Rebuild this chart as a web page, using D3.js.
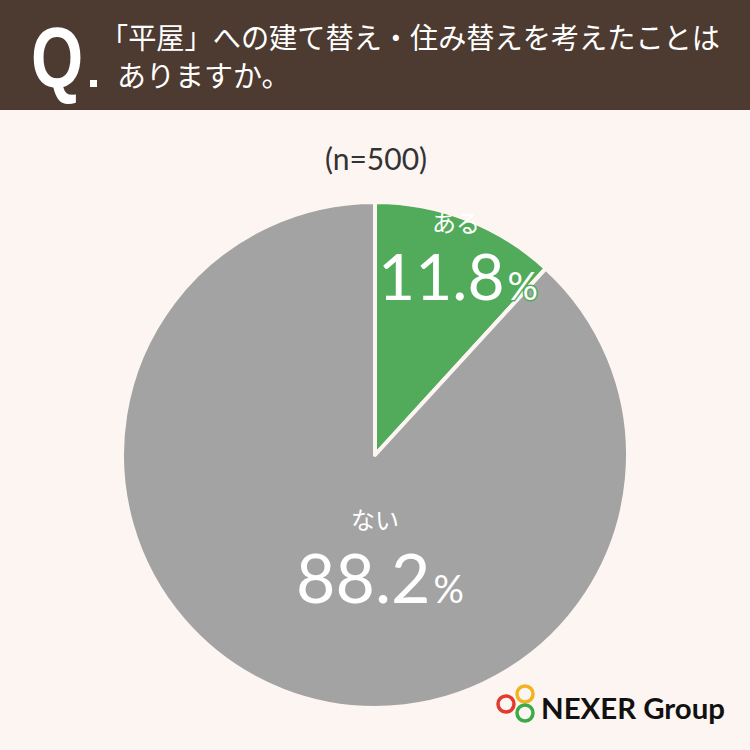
<!DOCTYPE html>
<html>
<head>
<meta charset="utf-8">
<script src="https://cdn.jsdelivr.net/npm/d3@7"></script>
<style>
  body { margin: 0; background: #fdf5f2; }
  svg { display: block; }
</style>
</head>
<body>
<svg id="chart" width="750" height="750"></svg>
<script>
// data
var categories = ['ある', 'ない'];
var values = [11.8, 88.2];
var colors = ['#52ab5b', '#a3a3a3'];
var titleLines = ['「平屋」への建て替え・住み替えを考えたことは', 'ありますか。'];
var sampleLabel = '(n=500)';

var svg = d3.select('#chart');
var jp = '"Noto Sans CJK JP", "Noto Sans", sans-serif';

svg.append('rect').attr('width', 750).attr('height', 750).attr('fill', '#fdf5f2');

// header
svg.append('rect').attr('width', 750).attr('height', 110).attr('fill', '#4d3a31');
svg.append('text')
  .attr('transform', 'translate(31,87) scale(0.78,1)')
  .attr('font-family', '"Liberation Sans", sans-serif')
  .attr('font-weight', 'bold').attr('font-size', 86)
  .attr('fill', '#fff')
  .text('Q');
svg.append('rect').attr('x', 90).attr('y', 80).attr('width', 7).attr('height', 7).attr('fill', '#fff');

svg.selectAll('.title')
  .data(titleLines)
  .join('text')
  .attr('class', 'title')
  .attr('x', function(d, i) { return i == 0 ? 100 : 117; })
  .attr('y', function(d, i) { return 49 + i * 38; })
  .attr('font-family', jp)
  .attr('font-size', 29)
  .attr('fill', '#fff')
  .attr('textLength', function(d, i) { return i == 0 ? 620 : null; })
  .attr('lengthAdjust', 'spacingAndGlyphs')
  .text(function(d) { return d; });

svg.append('text')
  .attr('x', 376).attr('y', 170)
  .attr('text-anchor', 'middle')
  .attr('font-family', 'Lato, "Noto Sans", sans-serif')
  .attr('font-size', 30)
  .attr('fill', '#333')
  .text(sampleLabel);

// pie
var cx = 375, cy = 455, r = 253;
var pie = d3.pie().sort(null).value(function(d) { return d; });
var arc = d3.arc().innerRadius(0).outerRadius(r);
var arcs = pie(values);

var g = svg.append('g').attr('transform', 'translate(' + [cx, cy] + ')');
g.selectAll('path')
  .data(arcs)
  .join('path')
  .attr('d', arc)
  .attr('fill', function(d, i) { return colors[i]; })
  .attr('stroke', '#fdf5f2')
  .attr('stroke-width', 4)
  .attr('stroke-linejoin', 'round');

// labels: number baseline and category offset
var spots = [{x: 458 - cx, y: 300 - cy, dy: -68}, {x: 380 - cx, y: 603 - cy, dy: -74}];

var labels = g.selectAll('.lbl')
  .data(arcs)
  .join('g')
  .attr('class', 'lbl')
  .attr('transform', function(d, i) { return 'translate(' + [spots[i].x, spots[i].y] + ')'; });

labels.append('text')
  .attr('x', function(d, i) { return i == 0 ? -2 : -5; })
  .attr('y', function(d, i) { return spots[i].dy; })
  .attr('text-anchor', 'middle')
  .attr('font-family', jp)
  .attr('font-size', 24)
  .attr('fill', '#fff')
  .text(function(d, i) { return categories[i]; });

var num = labels.append('text')
  .attr('text-anchor', 'middle')
  .attr('font-family', 'Lato, "Noto Sans", sans-serif')
  .attr('fill', '#fff')
  .attr('stroke', function(d, i) { return colors[i]; })
  .attr('stroke-width', 3)
  .attr('paint-order', 'stroke');
num.append('tspan')
  .attr('font-size', function(d, i) { return i == 0 ? 64 : 68; })
  .text(function(d) { return d.data.toFixed(1); });
num.append('tspan')
  .attr('font-size', 38)
  .attr('dx', 3)
  .text('%');

// logo
var logo = svg.append('g');
[[506, 704, '#e23b2e'], [525, 694, '#f2b321'], [525, 713, '#3daa48']].forEach(function(c) {
  logo.append('circle').attr('cx', c[0]).attr('cy', c[1]).attr('r', 8)
    .attr('fill', 'none').attr('stroke', c[2]).attr('stroke-width', 3.5);
});
svg.append('text')
  .attr('x', 541).attr('y', 719)
  .attr('font-family', 'Lato, "Noto Sans", sans-serif')
  .attr('font-weight', 'bold')
  .attr('font-size', 29)
  .attr('textLength', 184)
  .attr('lengthAdjust', 'spacingAndGlyphs')
  .attr('fill', '#111')
  .text('NEXER Group');
</script>
</body>
</html>
